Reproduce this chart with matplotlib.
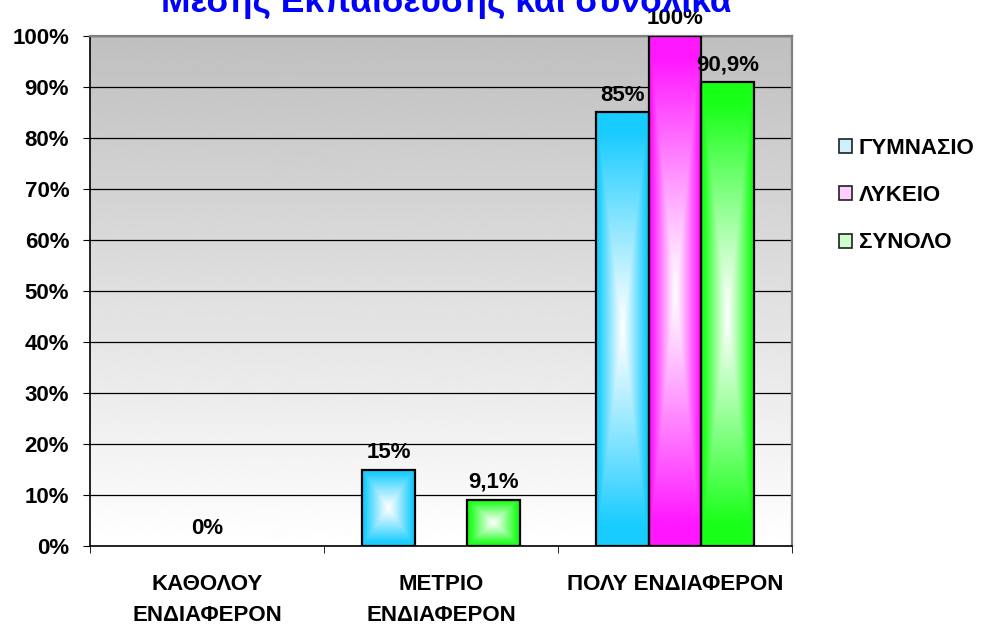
import numpy as np
import matplotlib
matplotlib.use('Agg')
import matplotlib.pyplot as plt
import matplotlib.patches as mpatches

plt.rcParams['font.family'] = ['Liberation Sans', 'DejaVu Sans']

categories = ['ΚΑΘΟΛΟΥ\nΕΝΔΙΑΦΕΡΟΝ', 'ΜΕΤΡΙΟ\nΕΝΔΙΑΦΕΡΟΝ', 'ΠΟΛΥ ΕΝΔΙΑΦΕΡΟΝ']
series_names = ['ΓΥΜΝΑΣΙΟ', 'ΛΥΚΕΙΟ', 'ΣΥΝΟΛΟ']
gymnasio = [np.nan, 15, 85]
lykeio = [0, np.nan, 100]
synolo = [np.nan, 9.1, 90.9]
title = 'Μέσης Εκπαίδευσης και συνολικά'

COLORS = ['#19ccff', '#ff19ff', '#19ff19']
LIGHT = ['#cdf0ff', '#ffcdff', '#cdffcd']


def pct(v):
    s = f'{v:.1f}'.rstrip('0').rstrip('.')
    return s.replace('.', ',') + '%'


def center_gradient(color, n=160, m=60):
    """Rectangular 'from centre' gradient: white in middle, colour at edges."""
    c = np.array(matplotlib.colors.to_rgb(color))
    v = np.linspace(-1, 1, n)[:, None]
    u = np.linspace(-1, 1, m)[None, :]
    t = np.clip(np.maximum(np.abs(u), np.abs(v)) * 1.1, 0, 1) ** 1.1
    return 1 - (1 - c) * t[..., None]


fig = plt.figure(figsize=(9.84, 6.30), dpi=100)
ax = fig.add_axes([90 / 984, 84 / 630, 702 / 984, 510 / 630])

# plot-area background: grey at top fading to white
bg = np.linspace(1.0, 0.75, 256)[:, None] * np.ones((1, 2))
ax.imshow(bg, extent=[0, 1, 0, 1], transform=ax.transAxes, aspect='auto',
          cmap='gray', vmin=0, vmax=1, origin='lower', zorder=0)

x = np.arange(len(categories))
w = 0.224
for i, (vals, col) in enumerate(zip([gymnasio, lykeio, synolo], COLORS)):
    heights = [0 if np.isnan(v) else v for v in vals]
    bars = ax.bar(x + (i - 1) * w, heights, width=w, facecolor='none',
                  edgecolor='black', linewidth=1.6, zorder=3)
    for bar, v in zip(bars, vals):
        if np.isnan(v):
            bar.set_visible(False)
            continue
        if v > 0:
            im = ax.imshow(center_gradient(col),
                           extent=[bar.get_x(), bar.get_x() + w, 0, v],
                           aspect='auto', zorder=2)
            im.set_clip_path(bar)
        else:
            bar.set_visible(False)
        ax.annotate(pct(v), (bar.get_x() + w / 2, v), xytext=(0, 5),
                    textcoords='offset points', ha='center', va='bottom',
                    fontsize=16, fontweight='bold', zorder=5)

ax.set_xlim(-0.5, 2.5)
ax.set_ylim(0, 100)
ax.set_yticks(np.arange(0, 101, 10))
ax.set_yticklabels([f'{v}%' for v in range(0, 101, 10)],
                   fontsize=16, fontweight='bold')
ax.set_xticks(x)
ax.set_xticklabels(categories, fontsize=16, fontweight='bold', linespacing=1.65)
ax.set_xticks([-0.5, 0.5, 1.5, 2.5], minor=True)
ax.tick_params(axis='x', which='major', length=0, pad=20)
ax.tick_params(axis='x', which='minor', length=5, direction='out', color='black')
ax.tick_params(axis='y', length=5, direction='out', pad=10, color='black')
ax.grid(axis='y', color='black', linewidth=0.9, zorder=1)
ax.set_axisbelow(True)

for sp in ['top', 'right']:
    ax.spines[sp].set_color('#808080')
    ax.spines[sp].set_linewidth(1.6)
for sp in ['left', 'bottom']:
    ax.spines[sp].set_color('black')
    ax.spines[sp].set_linewidth(1.2)

handles = [mpatches.Patch(facecolor=l, edgecolor='#202020', linewidth=1.2, label=n)
           for l, n in zip(LIGHT, series_names)]
fig.legend(handles=handles, loc='upper left', bbox_to_anchor=(819 / 984, 1 - 118 / 630),
           frameon=False, handlelength=0.6, handleheight=0.6, handletextpad=0.3,
           labelspacing=1.18, prop={'size': 16, 'weight': 'bold'})

fig.text(446 / 984, 1 - 12 / 630, title, ha='center', va='baseline',
         fontsize=25.5, fontweight='bold', color='#0000ff')

fig.savefig('out.png', dpi=100)
